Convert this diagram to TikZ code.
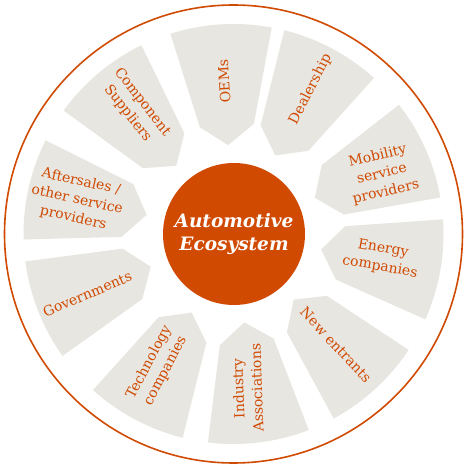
\documentclass[tikz,border=0pt]{standalone}
\usepackage{fontspec}
\setmainfont{DejaVu Serif}
\usepackage{tikz}
\usetikzlibrary{positioning}
\definecolor{ecoorange}{RGB}{208,74,2}
\definecolor{segrey}{RGB}{232,230,225}

\begin{document}
\begin{tikzpicture}[x=1pt, y=1pt,
  segment/.style={fill=segrey},
  seglabel/.style={text=ecoorange, align=center, inner sep=0pt, font=\fontsize{14}{18.5}\selectfont}]
\useasboundingbox (-233.5,-234) rectangle (232.5,234);
% Outer ring
\draw[ecoorange, line width=1.6pt] (0,0) circle (229);
% Segments
\foreach \a in {93.5,62,24,-10,-47.5,-83,-118,-158.5,167.5,130} {
  \fill[segment] (\a+14:210) arc[start angle=\a+14, end angle=\a-14, radius=210]
    -- (\a-14:112) -- (\a:89) -- (\a+14:112) -- cycle;
}
% Labels
\node[seglabel, rotate=93.5] (oems) at (93.5:153) {OEMs};
\node[seglabel, rotate=63] (dealer) at (62:164) {Dealership};
\node[seglabel, rotate=13] (mobility) at (22:160) {Mobility\\service\\providers};
\node[seglabel, rotate=-10] (energy) at (-9.2:150) {Energy\\companies};
\node[seglabel, rotate=-47] (newent) at (-47.3:151) {New entrants};
\node[seglabel, rotate=92] (industry) at (-84.8:155) {Industry\\Associations};
\node[seglabel, rotate=62] (tech) at (-119.9:153) {Technology\\companies};
\node[seglabel, rotate=23] (gov) at (-157.7:158) {Governments};
\node[seglabel, rotate=-12.5] (aftersales) at (167.7:160) {Aftersales /\\other service\\providers};
\node[seglabel, rotate=-52] (component) at (128:160) {Component\\Suppliers};
% Hub
\node[circle, fill=ecoorange, minimum size=142pt, text=white, align=center,
  font=\fontsize{18.5}{23}\selectfont\bfseries\itshape] (hub) at (0.5,0) {Automotive\\Ecosystem};
\end{tikzpicture}
\end{document}
